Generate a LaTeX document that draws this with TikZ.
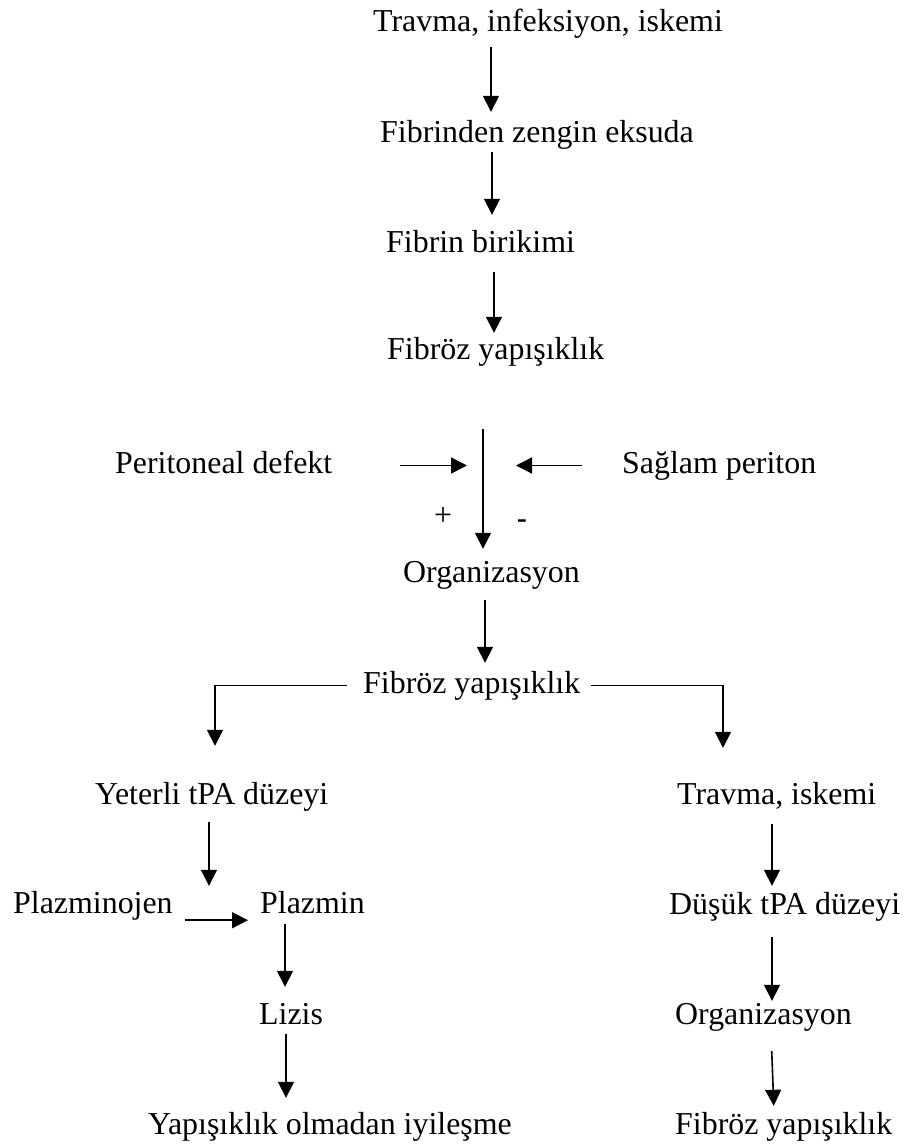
\documentclass[tikz,border=0pt]{standalone}
\usepackage{fontspec}
\setmainfont{Liberation Serif}
\newfontfamily\dashfont{Liberation Sans}
\usetikzlibrary{arrows.meta}

\tikzset{
    txt/.style={inner sep=0pt, anchor=base west, text height=22pt, text depth=7pt,
        font=\fontsize{31.9}{38}\selectfont},
    sign/.style={inner sep=0pt, anchor=base, font=\fontsize{31.9}{38}\selectfont},
    arr/.style={line width=1.6pt, -{Triangle[length=16pt,width=16pt]}}
}

\begin{document}
\begin{tikzpicture}[x=1pt, y=-1pt]
    \useasboundingbox (0,0) rectangle (907,1144);

    % Top chain
    \node[txt] (travma) at (373,31) {Travma, infeksiyon, iskemi};
    \node[txt] (eksuda) at (380,142) {Fibrinden zengin eksuda};
    \node[txt] (birikim) at (386,252) {Fibrin birikimi};
    \node[txt] (fibroz) at (387,359) {Fibröz yapışıklık};
    \draw[arr, shorten <=9pt, shorten >=8pt] (travma.south -| 491,0) -- (eksuda.north -| 491,0);
    \draw[arr, shorten <=3pt, shorten >=15pt] (eksuda.south -| 492,0) -- (birikim.north -| 492,0);
    \draw[arr, shorten <=13pt, shorten >=4pt] (birikim.south -| 494,0) -- (fibroz.north -| 494,0);

    % Peritoneum
    \node[txt] (defekt) at (115,473) {Peritoneal defekt};
    \node[txt] (periton) at (622,473) {Sağlam periton};
    \node[txt] (organiz) at (403,582) {Organizasyon};
    \coordinate (junc) at (483,429);
    \draw[arr, shorten >=11pt] (junc) -- (organiz.north -| junc);
    \draw[arr, shorten <=68pt, shorten >=16pt] (defekt.east) -- (defekt.east -| junc);
    \draw[arr, shorten <=40pt, shorten >=33pt] (periton.west) -- (periton.west -| junc);
    \node[sign] (plus) at (443,525) {+};
    \node[sign, font=\fontsize{31.9}{38}\dashfont] (minus) at (522,529) {-};

    % Split
    \node[txt] (fibrozb) at (363,693) {Fibröz yapışıklık};
    \node[txt] (yeterli) at (95,804) {Yeterli tPA düzeyi};
    \node[txt] (travmab) at (677,804) {Travma, iskemi};
    \draw[arr, shorten <=11pt, shorten >=8pt] (organiz.south -| 485,0) -- (fibrozb.north -| 485,0);
    \draw[arr, shorten <=16pt, shorten >=36pt] (fibrozb.west) -| (yeterli.north -| 215,0);
    \draw[arr, shorten <=11pt, shorten >=34pt] (fibrozb.east) -| (travmab.north -| 723,0);

    % Left branch
    \node[txt] (plazminojen) at (13,913) {Plazminojen};
    \node[txt] (plazmin) at (260,913) {Plazmin};
    \node[txt] (lizis) at (259,1024) {Lizis};
    \node[txt] (iyilesme) at (148,1134) {Yapışıklık olmadan iyileşme};
    \draw[arr, shorten <=11pt, shorten >=5pt] (yeterli.south -| 209,0) -- (plazmin.north -| 209,0);
    \draw[arr, shorten <=12pt, shorten >=12pt] (plazminojen.south east) -- (plazmin.south west);
    \draw[arr, shorten <=4pt, shorten >=15pt] (plazmin.south -| 285,0) -- (lizis.north -| 285,0);
    \draw[arr, shorten <=3pt, shorten >=14pt] (lizis.south -| 286,0) -- (iyilesme.north -| 286,0);

    % Right branch
    \node[txt] (dusuk) at (669,914) {Düşük tPA düzeyi};
    \node[txt] (organizb) at (675,1024) {Organizasyon};
    \node[txt] (fibrozc) at (675,1134) {Fibröz yapışıklık};
    \draw[arr, shorten <=13pt, shorten >=6pt] (travmab.south -| 772,0) -- (dusuk.north -| 772,0);
    \draw[arr, shorten <=16pt, shorten >=1pt] (dusuk.south -| 772,0) -- (organizb.north -| 772,0);
    \draw[arr, shorten <=20pt, shorten >=6pt] (organizb.south -| 771,0) -- (fibrozc.north -| 774,0);
\end{tikzpicture}
\end{document}
